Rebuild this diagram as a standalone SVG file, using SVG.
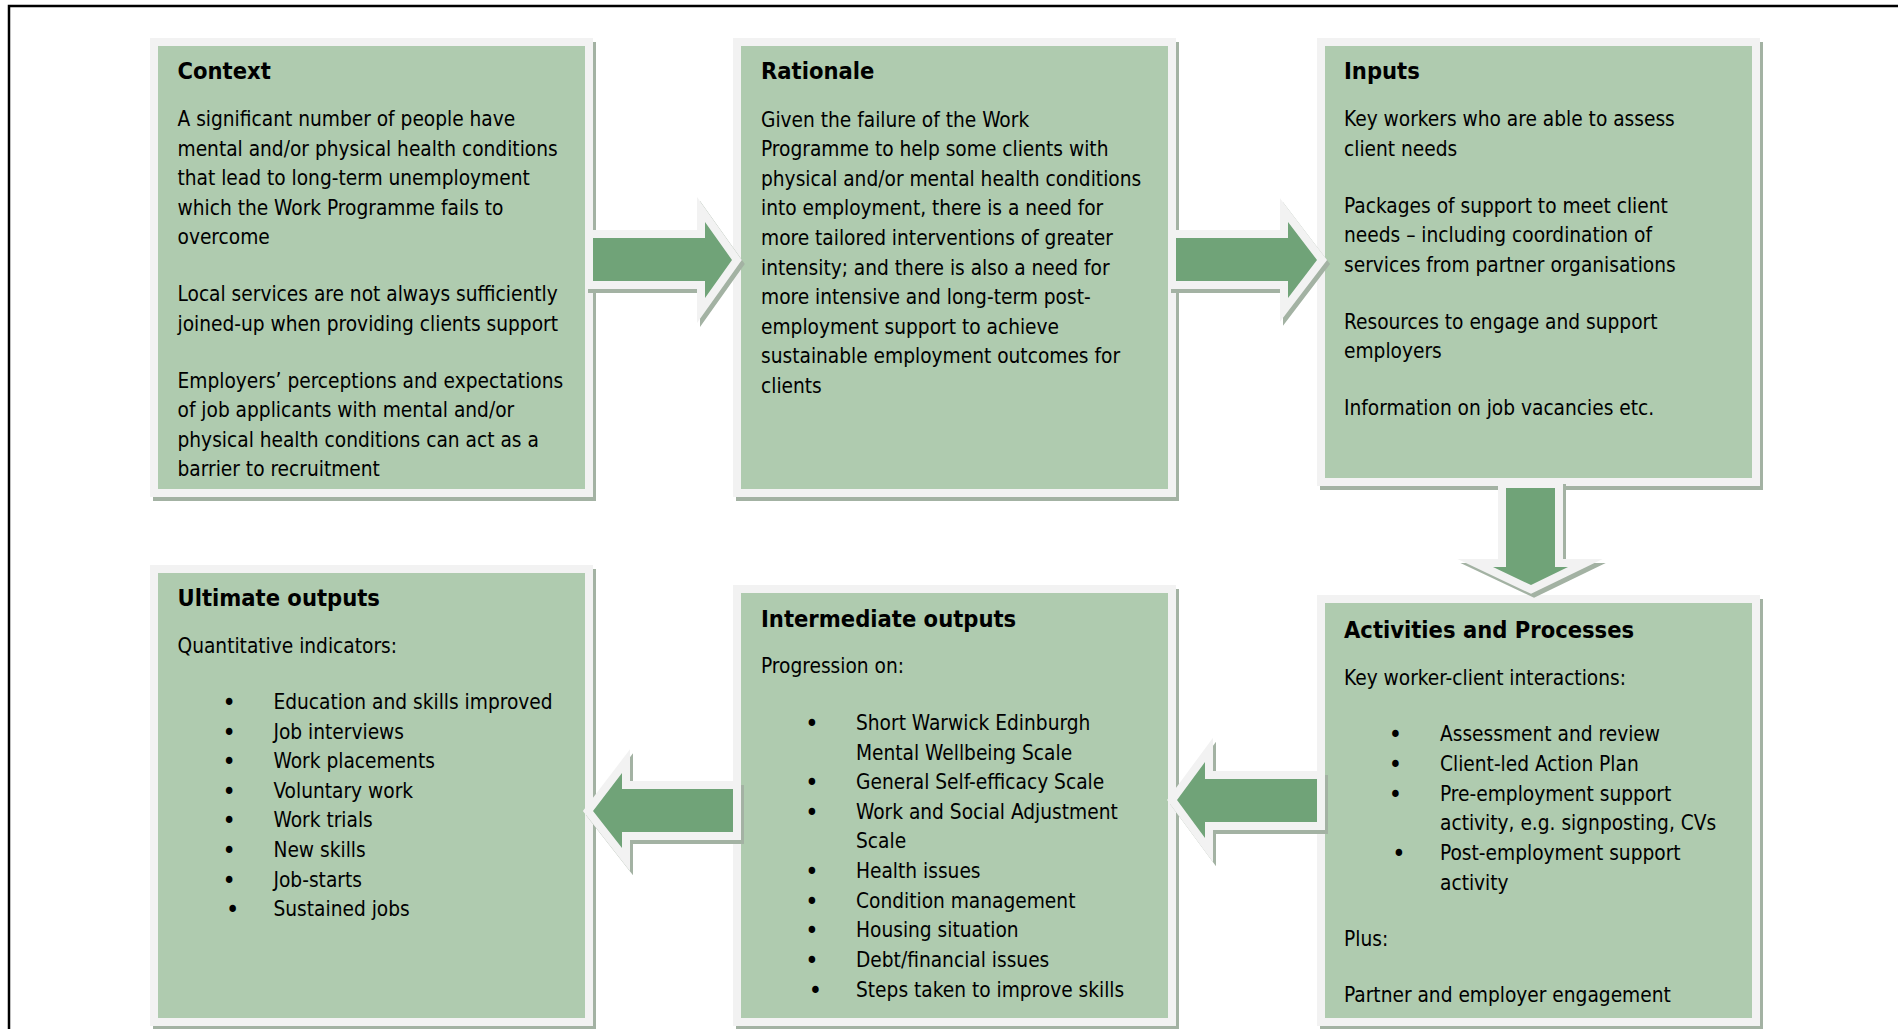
<svg xmlns="http://www.w3.org/2000/svg" width="1898" height="1029" viewBox="0 0 1898 1029">
<defs>
<style>
.box{fill:#afcbaf;stroke:#f2f2f2;stroke-width:16;paint-order:stroke;stroke-linejoin:miter}
.shadow{fill:#a3b2a3;stroke:#a3b2a3;stroke-width:16;stroke-linejoin:miter;stroke-miterlimit:10}
.arrow{fill:#70a378;stroke:#f2f2f2;stroke-width:16;paint-order:stroke;stroke-linejoin:miter;stroke-miterlimit:10}
text{font-family:"DejaVu Sans Condensed","DejaVu Sans",sans-serif;fill:#000}
.title{font-weight:bold;font-size:23.5px}
.body{font-size:20.7px}
.bul{font-size:25px;text-anchor:middle}
</style>
</defs>
<rect x="9" y="6" width="2000" height="2000" fill="none" stroke="#000" stroke-width="2.5"/>

<g id="context">
<rect class="shadow" x="161" y="50" width="427" height="443"/>
<rect class="box" x="158" y="46" width="427" height="443"/>
<text class="title" x="177.5" y="79">Context</text>
<text class="body">
<tspan x="177.5" y="126">A significant number of people have</tspan>
<tspan x="177.5" y="155.5">mental and/or physical health conditions</tspan>
<tspan x="177.5" y="185">that lead to long-term unemployment</tspan>
<tspan x="177.5" y="214.5">which the Work Programme fails to</tspan>
<tspan x="177.5" y="244">overcome</tspan>
<tspan x="177.5" y="301">Local services are not always sufficiently</tspan>
<tspan x="177.5" y="330.5">joined-up when providing clients support</tspan>
<tspan x="177.5" y="387.5">Employers’ perceptions and expectations</tspan>
<tspan x="177.5" y="417">of job applicants with mental and/or</tspan>
<tspan x="177.5" y="446.5">physical health conditions can act as a</tspan>
<tspan x="177.5" y="476">barrier to recruitment</tspan>
</text>
</g>

<g id="rationale">
<rect class="shadow" x="744" y="50" width="427" height="443"/>
<rect class="box" x="741" y="46" width="427" height="443"/>
<text class="title" x="761" y="79">Rationale</text>
<text class="body">
<tspan x="761" y="126.5">Given the failure of the Work</tspan>
<tspan x="761" y="156.1">Programme to help some clients with</tspan>
<tspan x="761" y="185.7">physical and/or mental health conditions</tspan>
<tspan x="761" y="215.3">into employment, there is a need for</tspan>
<tspan x="761" y="244.9">more tailored interventions of greater</tspan>
<tspan x="761" y="274.5">intensity; and there is also a need for</tspan>
<tspan x="761" y="304.1">more intensive and long-term post-</tspan>
<tspan x="761" y="333.7">employment support to achieve</tspan>
<tspan x="761" y="363.3">sustainable employment outcomes for</tspan>
<tspan x="761" y="392.9">clients</tspan>
</text>
</g>

<g id="inputs">
<rect class="shadow" x="1328" y="50" width="427" height="432"/>
<rect class="box" x="1325" y="46" width="427" height="432"/>
<text class="title" x="1344" y="79">Inputs</text>
<text class="body">
<tspan x="1344" y="126">Key workers who are able to assess</tspan>
<tspan x="1344" y="155.5">client needs</tspan>
<tspan x="1344" y="212.5">Packages of support to meet client</tspan>
<tspan x="1344" y="242">needs – including coordination of</tspan>
<tspan x="1344" y="271.5">services from partner organisations</tspan>
<tspan x="1344" y="328.5">Resources to engage and support</tspan>
<tspan x="1344" y="358">employers</tspan>
<tspan x="1344" y="415">Information on job vacancies etc.</tspan>
</text>
</g>

<g id="activities">
<rect class="shadow" x="1328" y="607" width="427" height="415"/>
<rect class="box" x="1325" y="603" width="427" height="415"/>
<text class="title" x="1344" y="637.5">Activities and Processes</text>
<text class="body">
<tspan x="1344" y="685">Key worker-client interactions:</tspan>
<tspan x="1440" y="740.5">Assessment and review</tspan>
<tspan x="1440" y="770.5">Client-led Action Plan</tspan>
<tspan x="1440" y="800.5">Pre-employment support</tspan>
<tspan x="1440" y="830">activity, e.g. signposting, CVs</tspan>
<tspan x="1440" y="860">Post-employment support</tspan>
<tspan x="1440" y="889.5">activity</tspan>
<tspan x="1344" y="946">Plus:</tspan>
<tspan x="1344" y="1002">Partner and employer engagement</tspan>
</text>
<text class="bul">
<tspan x="1399" y="742.5">•</tspan>
<tspan x="1399" y="772.5">•</tspan>
<tspan x="1399" y="802.5">•</tspan>
<tspan x="1399" y="862">•</tspan>
</text>
</g>

<g id="intermediate">
<rect class="shadow" x="744" y="597" width="427" height="425"/>
<rect class="box" x="741" y="593" width="427" height="425"/>
<text class="title" x="761" y="627">Intermediate outputs</text>
<text class="body">
<tspan x="761" y="673">Progression on:</tspan>
<tspan x="856" y="730">Short Warwick Edinburgh</tspan>
<tspan x="856" y="759.5">Mental Wellbeing Scale</tspan>
<tspan x="856" y="789">General Self-efficacy Scale</tspan>
<tspan x="856" y="818.5">Work and Social Adjustment</tspan>
<tspan x="856" y="848">Scale</tspan>
<tspan x="856" y="878">Health issues</tspan>
<tspan x="856" y="907.5">Condition management</tspan>
<tspan x="856" y="937">Housing situation</tspan>
<tspan x="856" y="966.5">Debt/financial issues</tspan>
<tspan x="856" y="996.5">Steps taken to improve skills</tspan>
</text>
<text class="bul">
<tspan x="815.5" y="732">•</tspan>
<tspan x="815.5" y="791">•</tspan>
<tspan x="815.5" y="820.5">•</tspan>
<tspan x="815.5" y="880">•</tspan>
<tspan x="815.5" y="909.5">•</tspan>
<tspan x="815.5" y="939">•</tspan>
<tspan x="815.5" y="968.5">•</tspan>
<tspan x="815.5" y="998.5">•</tspan>
</text>
</g>

<g id="ultimate">
<rect class="shadow" x="161" y="577" width="427" height="445"/>
<rect class="box" x="158" y="573" width="427" height="445"/>
<text class="title" x="177.5" y="606">Ultimate outputs</text>
<text class="body">
<tspan x="177.5" y="653">Quantitative indicators:</tspan>
<tspan x="273.5" y="709">Education and skills improved</tspan>
<tspan x="273.5" y="738.5">Job interviews</tspan>
<tspan x="273.5" y="768">Work placements</tspan>
<tspan x="273.5" y="797.5">Voluntary work</tspan>
<tspan x="273.5" y="827">Work trials</tspan>
<tspan x="273.5" y="857">New skills</tspan>
<tspan x="273.5" y="886.5">Job-starts</tspan>
<tspan x="273.5" y="916">Sustained jobs</tspan>
</text>
<text class="bul">
<tspan x="232.6" y="711">•</tspan>
<tspan x="232.6" y="740.5">•</tspan>
<tspan x="232.6" y="770">•</tspan>
<tspan x="232.6" y="799.5">•</tspan>
<tspan x="232.6" y="829">•</tspan>
<tspan x="232.6" y="859">•</tspan>
<tspan x="232.6" y="888.5">•</tspan>
<tspan x="232.6" y="918">•</tspan>
</text>
</g>

<g id="connectors">
<g transform="translate(3,4)">
<polygon class="shadow" points="593,238 705,238 705,222 732,260 705,298 705,281 593,281"/>
</g>
<polygon class="arrow" points="593,238 705,238 705,222 732,260 705,298 705,281 593,281"/>
<g transform="translate(3,4)">
<polygon class="shadow" points="1176,238 1288,238 1288,222 1317,260 1288,298 1288,281 1176,281"/>
</g>
<polygon class="arrow" points="1176,238 1288,238 1288,222 1317,260 1288,298 1288,281 1176,281"/>
<g transform="translate(3,4)">
<polygon class="shadow" points="1506,488 1555,488 1555,567 1568,567 1531,585 1493,567 1506,567"/>
</g>
<polygon class="arrow" points="1506,488 1555,488 1555,567 1568,567 1531,585 1493,567 1506,567"/>
<g transform="translate(3,4)">
<polygon class="shadow" points="1317,779 1205,779 1205,762 1177,800 1205,838 1205,822 1317,822"/>
</g>
<polygon class="arrow" points="1317,779 1205,779 1205,762 1177,800 1205,838 1205,822 1317,822"/>
<g transform="translate(3,4)">
<polygon class="shadow" points="733,789 622,789 622,773 593,811 622,848 622,832 733,832"/>
</g>
<polygon class="arrow" points="733,789 622,789 622,773 593,811 622,848 622,832 733,832"/>
</g>
</svg>
